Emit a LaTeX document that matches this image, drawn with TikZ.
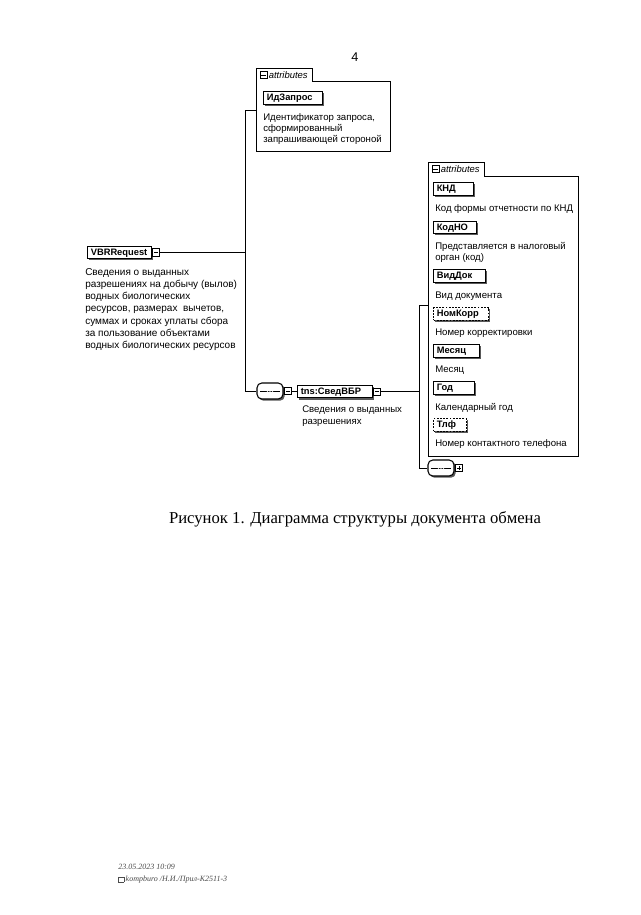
\documentclass[tikz,border=0pt]{standalone}
\usepackage{fontspec}
\setmainfont{Liberation Serif}
\newfontfamily\arialf{Liberation Sans}
\usetikzlibrary{shapes.misc,shadows}
\begin{document}
\begin{tikzpicture}[x=0.75pt,y=-0.75pt,
  wire/.style={line width=0.75pt},
  cont/.style={line width=0.6pt},
  shd/.style={drop shadow={shadow xshift=1.3pt, shadow yshift=-1.3pt, fill=black!65, opacity=1}},
  elem/.style={draw, line width=0.9pt, fill=white, anchor=north west, inner xsep=2.4pt, inner ysep=0pt,
    text height=6.9pt, text depth=2.5pt, align=left, font=\arialf\bfseries\fontsize{7}{8}\selectfont, shd},
  optelem/.style={elem, dash pattern=on 1.3pt off 1.1pt},
  desc/.style={anchor=north west, inner sep=0pt, align=left, font=\arialf\fontsize{7.2}{8.3}\selectfont},
  expbox/.style={draw, line width=0.6pt, fill=white, minimum size=5.4pt, inner sep=0pt, anchor=west},
  xminus/.style={expbox, path picture={\draw[line width=0.5pt] ([xshift=1.1pt]path picture bounding box.west) -- ([xshift=-1.1pt]path picture bounding box.east);}},
  xplus/.style={expbox, path picture={\draw[line width=0.5pt] ([xshift=1.1pt]path picture bounding box.west) -- ([xshift=-1.1pt]path picture bounding box.east) ([yshift=1.1pt]path picture bounding box.south) -- ([yshift=-1.1pt]path picture bounding box.north);}},
  seqc/.style={rectangle, rounded corners=3.6pt, draw, line width=0.8pt, fill=white,
    minimum width=19.5pt, minimum height=12pt, inner sep=0pt, shd,
    path picture={\draw[line width=0.5pt] ([xshift=2.6pt]path picture bounding box.west) -- ([xshift=-2.6pt]path picture bounding box.east);
      \fill (path picture bounding box.center) circle (0.65pt) ([xshift=-1.9pt]path picture bounding box.center) circle (0.65pt) ([xshift=1.9pt]path picture bounding box.center) circle (0.65pt);}},
  tabtxt/.style={anchor=west, inner sep=0pt, font=\arialf\itshape\fontsize{7.1}{8}\selectfont}
]
\fill[white] (0,0) rectangle (640,915);
\useasboundingbox (0,0) rectangle (640,915);

% page number
\node[font=\arialf\fontsize{9.5}{11}\selectfont] (pg) at (355,57) {4};

% ---------- attributes group 1 ----------
\coordinate (A1tl) at (256,68);
\coordinate (A1tr) at (312,68);
\coordinate (A1tb) at (312,81);
\coordinate (A1ne) at (390,81);
\coordinate (A1se) at (390,151);
\coordinate (A1sw) at (256,151);
\draw[cont, fill=white] (A1sw) -- (A1tl) -- (A1tr) -- (A1tb) -- (A1ne) -- (A1se) -- cycle;
\node[xminus] (t1i) at (259.5,75) {};
\node[tabtxt] (t1t) at (268.5,75) {attributes};
\node[elem, text width=39.45pt] (idz) at (263,91) {ИдЗапрос};
\node[desc, font=\arialf\fontsize{7.2}{8.3}\selectfont] (idzd) at (263,113.5) {Идентификатор запроса,\\сформированный\\запрашивающей стороной};

% ---------- root element ----------
\node[elem, text width=43.2pt] (vbr) at (87,245.5) {VBRRequest};
\node[xminus] (vbrx) at (vbr.east) {};
\node[desc, font=\arialf\fontsize{7.5}{9.15}\selectfont] (vbrd) at (85,268) {Сведения о выданных\\разрешениях на добычу (вылов)\\водных биологических\\ресурсов, размерах\ \ вычетов,\\суммах и сроках уплаты сбора\\за пользование объектами\\водных биологических ресурсов};

% junction 1
\coordinate (j1t) at (245,110);
\coordinate (j1b) at (245,391);
\draw[wire] (vbrx.east) -- (vbrx.east -| j1t);
\draw[wire] (j1t) -- (j1b);
\draw[wire] (j1t) -- (j1t -| A1sw);

% sequence 1
\node[seqc] (seq1) at (270,391) {};
\draw[wire] (j1b) -- (seq1.west);
\node[xminus] (seq1x) at ([xshift=0.4pt]seq1.east) {};

% ---------- СведВБР ----------
\node[elem, text width=51.45pt] (sved) at (297,384.7) {tns:СведВБР};
\node[xminus] (svedx) at (sved.east) {};
\draw[wire] (seq1x.east) -- (seq1x.east -| sved.west);
\node[desc, font=\arialf\fontsize{7.2}{9}\selectfont] (svedd) at (302,405.5) {Сведения о выданных\\разрешениях};

% junction 2
\coordinate (j2t) at (419,305);
\coordinate (j2b) at (419,468);
\draw[wire] (svedx.east) -- (svedx.east -| j2t);
\draw[wire] (j2t) -- (j2b);

% ---------- attributes group 2 ----------
\coordinate (A2tl) at (428,162);
\coordinate (A2tr) at (484,162);
\coordinate (A2tb) at (484,176);
\coordinate (A2ne) at (578,176);
\coordinate (A2se) at (578,456);
\coordinate (A2sw) at (428,456);
\draw[cont, fill=white] (A2sw) -- (A2tl) -- (A2tr) -- (A2tb) -- (A2ne) -- (A2se) -- cycle;
\node[xminus] (t2i) at (431.5,169) {};
\node[tabtxt] (t2t) at (440.5,169) {attributes};
\draw[wire] (j2t) -- (j2t -| A2sw);

\node[elem, text width=25.2pt] (knd) at (433,182) {КНД};
\node[desc] (kndd) at (435,204.5) {Код формы отчетности по КНД};
\node[elem, text width=27.45pt] (kodno) at (433,220.5) {КодНО};
\node[desc] (kodnod) at (435,242.5) {Представляется в налоговый\\орган (код)};
\node[elem, text width=34.2pt] (viddok) at (433,269) {ВидДок};
\node[desc] (viddokd) at (435,291.5) {Вид документа};
\node[optelem, text width=36.45pt] (nomkorr) at (433,307) {НомКорр};
\node[desc] (nomkorrd) at (435,328.5) {Номер корректировки};
\node[elem, text width=29.7pt] (mes) at (433,344) {Месяц};
\node[desc] (mesd) at (435,365.5) {Месяц};
\node[elem, text width=25.95pt] (god) at (433,381) {Год};
\node[desc] (godd) at (435,403.5) {Календарный год};
\node[optelem, text width=19.95pt] (tlf) at (433,418) {Тлф};
\node[desc] (tlfd) at (435,439.5) {Номер контактного телефона};

% sequence 2
\node[seqc] (seq2) at (441,468) {};
\draw[wire] (j2b) -- (seq2.west);
\node[xplus] (seq2x) at ([xshift=0.4pt]seq2.east) {};

% caption
\node[font=\fontsize{12.5}{14}\selectfont] (cap) at (355,519) {Рисунок 1. Диаграмма структуры документа обмена};

% footer
\node[anchor=west, inner sep=0pt, text=black!70, font=\itshape\fontsize{6}{7}\selectfont] (f1) at (118,867) {23.05.2023 10:09};
\node[anchor=west, inner sep=0pt, text=black!70, font=\itshape\fontsize{6}{7}\selectfont] (f2) at (118,880) {{\setlength\fboxsep{0pt}\setlength\fboxrule{0.3pt}\fbox{\rule{0pt}{3.5pt}\hspace{4pt}}}\,kompburo /Н.И./Прил-К2511-3};
\end{tikzpicture}
\end{document}
